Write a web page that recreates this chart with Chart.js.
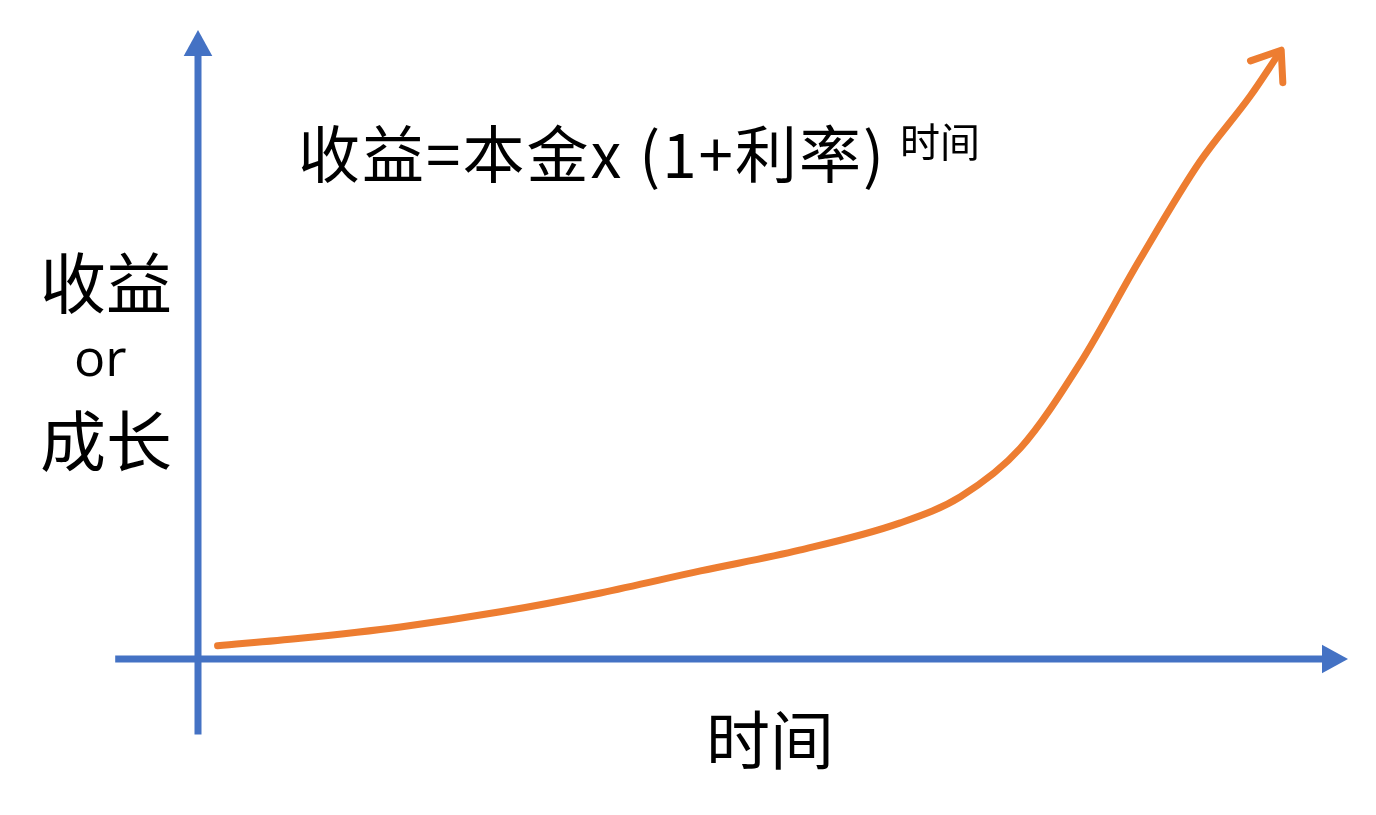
<!DOCTYPE html>
<html><head><meta charset="utf-8">
<script src="https://cdn.jsdelivr.net/npm/chart.js@4"></script>
<style>
html,body{margin:0;padding:0;background:#fff;}
#wrap{position:relative;width:1376px;height:815px;}
canvas{position:absolute;left:0;top:0;}
.t{position:absolute;font-family:"Noto Sans CJK SC","Noto Sans",sans-serif;color:#000;white-space:nowrap;line-height:1;}
</style></head><body>
<div id="wrap">
<canvas id="c" width="1376" height="815"></canvas>
<div class="t" style="left:298px;top:120px;font-size:62px;letter-spacing:2px;">收益=本金x (1+利率)</div>
<div class="t" style="left:900px;top:120px;font-size:40px;">时间</div>
<div class="t" style="left:40px;top:246px;font-size:66px;">收益</div>
<div class="t" style="left:74px;top:330px;font-size:52px;font-family:'Open Sans',sans-serif;">or</div>
<div class="t" style="left:40px;top:404px;font-size:66px;">成长</div>
<div class="t" style="left:706px;top:704px;font-size:64px;">时间</div>
</div>
<script>
const timeValues = [1.7, 8.9, 17.6, 26.3, 35, 43.7, 52.3, 61, 66.3, 71.5, 76.7, 81.9, 87.1, 91.5, 93.9];
const growthValues = [2.1, 3.3, 5.1, 7.5, 10.5, 14, 17.3, 21.6, 25.8, 33.5, 47, 63.5, 79, 89.5, 96];
const points = timeValues.map((x,i)=>({x, y: growthValues[i]}));

function arrowHead(ctx, tx, ty, angle, len, color, filled){
  ctx.save();
  ctx.translate(tx,ty); ctx.rotate(angle);
  ctx.fillStyle=color; ctx.strokeStyle=color;
  if(filled){
    ctx.beginPath(); ctx.moveTo(0,0); ctx.lineTo(-len,-len*0.55); ctx.lineTo(-len,len*0.55); ctx.closePath(); ctx.fill();
  } else {
    ctx.lineWidth=7; ctx.lineCap='round'; ctx.lineJoin='round';
    ctx.beginPath(); ctx.moveTo(-len,-len*0.75); ctx.lineTo(0,0); ctx.lineTo(-len,len*0.75); ctx.stroke();
  }
  ctx.restore();
}

const axesPlugin = {
  id:'axesPlugin',
  beforeDatasetsDraw(chart){
    const ctx=chart.ctx, xs=chart.scales.x, ys=chart.scales.y;
    const blue='#4472C4';
    const x0=xs.getPixelForValue(0), y0=ys.getPixelForValue(0);
    ctx.save();
    ctx.strokeStyle=blue; ctx.lineWidth=7;
    ctx.beginPath(); ctx.moveTo(xs.getPixelForValue(-7.2), y0); ctx.lineTo(xs.getPixelForValue(98.2), y0); ctx.stroke();
    ctx.beginPath(); ctx.moveTo(x0, ys.getPixelForValue(-12)); ctx.lineTo(x0, ys.getPixelForValue(96)); ctx.stroke();
    ctx.restore();
    arrowHead(ctx, xs.getPixelForValue(100), y0, 0, 26, blue, true);
    arrowHead(ctx, x0, ys.getPixelForValue(100), -Math.PI/2, 26, blue, true);
  },
  afterDatasetsDraw(chart){
    const meta=chart.getDatasetMeta(0).data;
    const a=meta[meta.length-2], b=meta[meta.length-1];
    const ang=Math.atan2(b.y-a.y,b.x-a.x);
    arrowHead(chart.ctx, b.x+Math.cos(ang)*6, b.y+Math.sin(ang)*6, ang, 26, '#ED7D31', false);
  }
};

new Chart(document.getElementById('c'),{
  type:'line',
  data:{datasets:[{data:points,borderColor:'#ED7D31',borderWidth:7,pointRadius:0,tension:0.4,cubicInterpolationMode:'monotone',borderCapStyle:'round',fill:false}]},
  options:{
    responsive:false,animation:false,
    layout:{padding:{left:198,right:28,top:30,bottom:156}},
    plugins:{legend:{display:false},tooltip:{enabled:false}},
    scales:{
      x:{type:'linear',min:0,max:100,display:false},
      y:{type:'linear',min:0,max:100,display:false}
    }
  },
  plugins:[axesPlugin]
});
</script>
</body></html>
